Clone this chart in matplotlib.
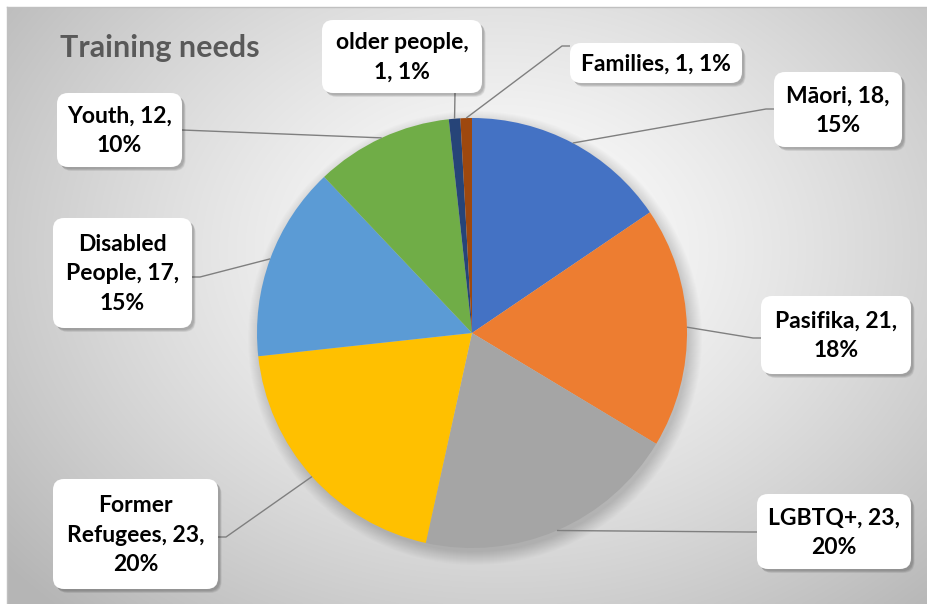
import numpy as np
import matplotlib
matplotlib.use("Agg")
import matplotlib.pyplot as plt
from matplotlib.patches import FancyBboxPatch, Circle

# survey answers: who needs training
categories = ["Māori", "Pasifika", "LGBTQ+", "Former Refugees", "Disabled People",
              "Youth", "older people", "Families"]
counts = [18, 21, 23, 23, 17, 12, 1, 1]
percents = [15, 18, 20, 20, 15, 10, 1, 1]
colors = ["#4472C4", "#ED7D31", "#A5A5A5", "#FFC000", "#5B9BD5",
          "#70AD47", "#264478", "#9E480E"]
title = "Training needs"

# label layout in pixels: box (left, top, width, height), where the leader
# meets the box, and how the text wraps
boxes = [(774, 72, 128, 75), (761, 296, 150, 78), (757, 494, 154, 75),
         (53, 479, 165, 110), (53, 218, 139, 110), (57, 93, 125, 74),
         (322, 20, 160, 73), (570, 43, 172, 40)]
attach = [(774, 109, -1), (761, 338, -1), (757, 532, -1), (218, 537, 1),
          (192, 277, 1), (182, 130, 0), (455, 93, 0), (570, 46, -1)]
wraps = ["{c}, {n},\n{p}%", "{c}, {n},\n{p}%", "{c}, {n},\n{p}%",
         "{a}\n{b}, {n},\n{p}%", "{a}\n{b}, {n},\n{p}%", "{c}, {n},\n{p}%",
         "{c},\n{n}, {p}%", "{c}, {n}, {p}%"]

W, H = 927, 604
cx, cy, R = 472, 333, 215
FONT = "Lato"

fig = plt.figure(figsize=(W / 100, H / 100), dpi=100)
ax = fig.add_axes([0, 0, 1, 1])

# radial grey background of the chart area
xs = np.linspace(7, W, 460)
ys = np.linspace(7, H, 300)
X, Y = np.meshgrid(xs, ys)
r = np.sqrt(((X - 500) / 560) ** 2 + ((Y - 250) / 430) ** 2)
shade = 1.0 - 0.24 * np.clip(r, 0, 1.15) ** 1.3
ax.imshow(np.dstack([shade] * 3), extent=(7, W, H, 7), zorder=0,
          interpolation="bilinear")
ax.plot([7, W], [7, 7], color="#c0c0c0", lw=1, zorder=1)
ax.plot([7, 7], [7, H], color="#c0c0c0", lw=1, zorder=1)

# soft shadow under the pie
for i in range(14):
    ax.add_patch(Circle((cx + 3, cy + 5), R + 12 - i, color="black",
                        alpha=0.01, lw=0, zorder=2))

wedges, _ = ax.pie(counts, colors=colors, startangle=-90, counterclock=True,
                   center=(cx, cy), radius=R, frame=True,
                   wedgeprops=dict(linewidth=0, zorder=3))
for w in wedges:
    w.set_zorder(3)

ax.set_xlim(0, W)
ax.set_ylim(H, 0)
ax.set_aspect("auto")
ax.axis("off")

ax.text(60, 57, title, fontsize=22, weight="bold", color="#595959",
        family=FONT, va="baseline", ha="left", zorder=6)

for w, c, n, p, box, att, wrap in zip(wedges, categories, counts, percents,
                                      boxes, attach, wraps):
    mid = np.deg2rad((w.theta1 + w.theta2) / 2)
    ex, ey = cx + R * np.cos(mid), cy + R * np.sin(mid)
    bx, by, side = att
    if side == 0:
        px, py = [ex, bx], [ey, by]
    else:
        px, py = [ex, bx + 8 * side, bx], [ey, by, by]
    ax.plot(px, py, color="#7f7f7f", lw=1, zorder=4, solid_capstyle="butt")

    left, top, bw, bh = box
    for k in range(5):
        ax.add_patch(FancyBboxPatch((left + 2 + k * 0.4, top + 2 + k * 0.5), bw, bh,
                                    boxstyle="round,pad=0,rounding_size=11",
                                    fc="black", ec="none", alpha=0.05, zorder=5))
    ax.add_patch(FancyBboxPatch((left, top), bw, bh,
                                boxstyle="round,pad=0,rounding_size=11",
                                fc="white", ec="none", zorder=5))
    a, _, b = c.partition(" ")
    txt = wrap.format(c=c, a=a, b=b, n=n, p=p)
    ax.text(left + bw / 2, top + bh / 2 + 1, txt, ha="center", va="center",
            fontsize=16.5, weight="bold", family=FONT, color="black",
            linespacing=1.5, zorder=6)

fig.savefig("out.png", dpi=100)
